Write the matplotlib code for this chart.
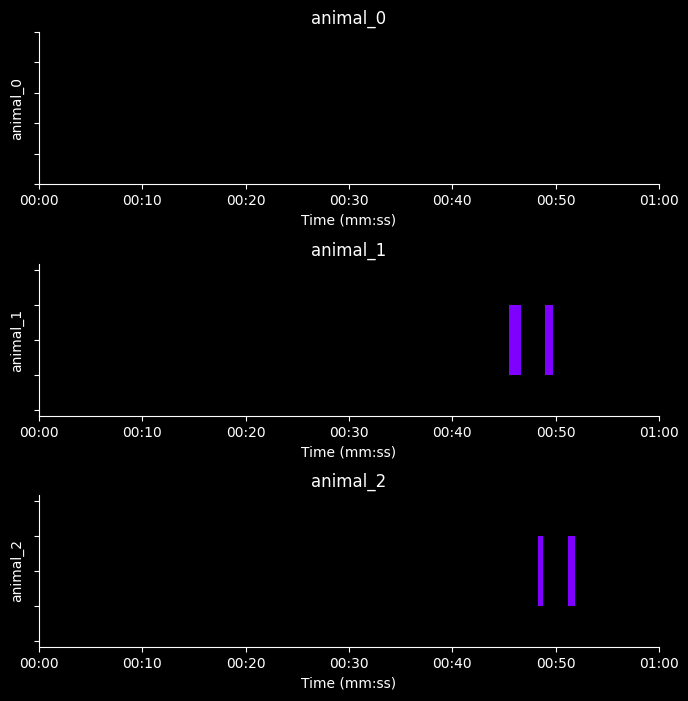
import matplotlib
matplotlib.use('Agg')
import matplotlib.pyplot as plt
from matplotlib.ticker import FuncFormatter

ANIMALS = ['animal_0', 'animal_1', 'animal_2']
# bouts per animal: (start seconds, duration seconds)
BOUTS = {
    'animal_0': [],
    'animal_1': [(45.5, 1.1), (49.0, 0.75)],
    'animal_2': [(48.3, 0.5), (51.2, 0.7)],
}
XTICKS = [0, 10, 20, 30, 40, 50, 60]
COLOR = '#7f00ff'

plt.style.use('dark_background')
fig = plt.figure(figsize=(6.88, 7.01), dpi=100)
H = 701
tops = [32, 264, 495]
fmt = FuncFormatter(lambda s, _: f"{int(s) // 60:02d}:{int(s) % 60:02d}")

for name, top in zip(ANIMALS, tops):
    ax = fig.add_axes([39 / 688, (H - top - 152) / H, 620 / 688, 152 / H])
    bouts = BOUTS[name]
    if bouts:
        ax.broken_barh(bouts, (-0.2, 0.4), facecolors=COLOR)
        ax.set_ylim(-0.434, 0.434)
        ax.set_yticks([-0.4, -0.2, 0, 0.2, 0.4])
    else:
        ax.set_ylim(0, 1)
        ax.set_yticks([0, 0.2, 0.4, 0.6, 0.8, 1.0])
    ax.set_yticklabels([])
    ax.set_xlim(0, 60)
    ax.set_xticks(XTICKS)
    ax.xaxis.set_major_formatter(fmt)
    ax.spines['top'].set_visible(False)
    ax.spines['right'].set_visible(False)
    ax.set_title(name, fontsize=12)
    ax.set_ylabel(name)
    ax.set_xlabel('Time (mm:ss)')

fig.savefig('out.png', dpi=100, facecolor='black')
